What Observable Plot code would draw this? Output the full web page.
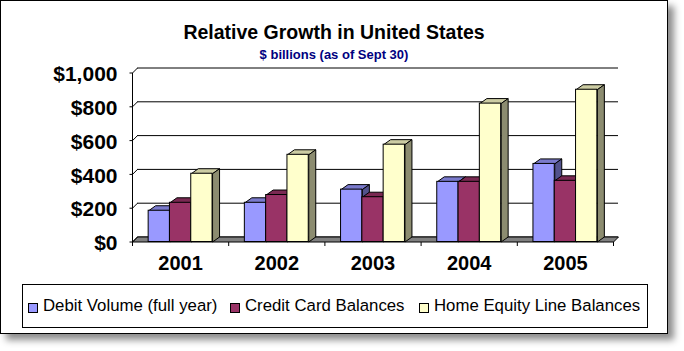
<!DOCTYPE html>
<html><head><meta charset="utf-8">
<script src="https://cdn.jsdelivr.net/npm/d3@7"></script>
<script src="https://cdn.jsdelivr.net/npm/@observablehq/plot@0.6"></script>
<style>
html,body{margin:0;padding:0;background:#fff;}
body{width:684px;height:351px;position:relative;overflow:hidden;font-family:Arial,"Liberation Sans",sans-serif;}
#frame{position:absolute;left:0;top:0;width:666px;height:332px;border:1px solid #000;background:#fff;box-shadow:6px 6px 7px rgba(0,0,0,0.45);}
#title{position:absolute;left:0;top:22.5px;width:668px;text-align:center;font-weight:bold;font-size:19.5px;line-height:19.5px;color:#000;white-space:nowrap;}
#subtitle{position:absolute;left:0;top:48px;width:668px;text-align:center;font-weight:bold;font-size:13px;line-height:13px;color:#000080;white-space:nowrap;}
#chart{position:absolute;left:0;top:62px;}
#legend{position:absolute;left:22px;top:284px;width:624px;height:42px;border:1px solid #000;background:#fff;}
.sw{position:absolute;width:8px;height:8px;border:1px solid #000;top:17.5px;}
.lt{position:absolute;font-size:16.8px;line-height:16.8px;top:12.5px;white-space:nowrap;color:#000;}
</style>
</head>
<body>
<div id="frame"></div>
<div id="title"></div>
<div id="subtitle"></div>
<div id="chart"></div>
<div id="legend"></div>
<script>
const titleText = "Relative Growth in United States";
const subtitleText = "$ billions (as of Sept 30)";
const years = ["2001", "2002", "2003", "2004", "2005"];
const debit = [185, 232, 310, 356, 462];
const credit = [232, 278, 265, 356, 362];
const homeEquity = [404, 516, 576, 819, 901];
const seriesNames = ["Debit Volume (full year)", "Credit Card Balances", "Home Equity Line Balances"];
const yTicks = [0, 200, 400, 600, 800, 1000];
const frontColors = ["#9999FF", "#993366", "#FFFFCC"];
const topColors = ["#7a7acc", "#7a2952", "#cccca3"];
const sideColors = ["#52528c", "#541c38", "#8c8c70"];

document.getElementById("title").textContent = titleText;
document.getElementById("subtitle").textContent = subtitleText;

const seriesValues = [debit, credit, homeEquity];
const rows = [];
seriesValues.forEach((vals, s) => vals.forEach((v, i) => rows.push({year: years[i], s, value: v})));

const W = 668, H = 220, ML = 132, MR = 55, MT = 10.5, MB = 40.5;
const bandW = (W - ML - MR) / years.length;
const barW = 21.3;
const inset = (bandW - barW) / 2;
const offsets = [-barW, 0, barW];
const dX = 7, dY = 5;      // bar depth
const wX = 5, wY = 5;      // wall depth
const fmt = d => "$" + d3.format(",")(d);

function bwOf(x) {
  return typeof x.bandwidth === "function" ? x.bandwidth() : (x.bandwidth ?? bandW);
}

function walls(index, scales) {
  const x = scales.x, y = scales.y;
  const g = d3.create("svg:g").attr("transform", "translate(0.5,0.5)").attr("fill", "none").attr("stroke", "#000");
  const bw = bwOf(x);
  const x0 = x(years[0]);
  const x1 = x(years[years.length - 1]) + bw;
  const y0 = y(0);
  // floor
  g.append("path").attr("d", `M${x0},${y0}L${x1},${y0}L${x1 + wX},${y0 - wY}L${x0 + wX},${y0 - wY}Z`).attr("fill", "#808080");
  // side wall edges at each tick + tick marks
  for (const v of yTicks) {
    g.append("path").attr("d", `M${x0},${y(v)}L${x0 + wX},${y(v) - wY}`);
    g.append("path").attr("d", `M${x0 - 3},${y(v)}L${x0},${y(v)}`);
  }
  // axis line
  g.append("path").attr("d", `M${x0},${y(0)}L${x0},${y(yTicks[yTicks.length - 1])}`);
  // category ticks
  for (let k = 0; k <= years.length; k++) {
    const xx = x0 + k * bw;
    g.append("path").attr("d", `M${xx},${y0}L${xx},${y0 + 4}`);
  }
  return g.node();
}

function faces(k) {
  return (index, scales) => {
    const x = scales.x, y = scales.y;
    const bw = bwOf(x);
    const y0 = y(0);
    const g = d3.create("svg:g").attr("transform", "translate(0.5,0.5)").attr("stroke", "#000").attr("stroke-linejoin", "round");
    rows.filter(r => r.s === k).forEach(r => {
      const xa = x(r.year) + (bw - barW) / 2 + offsets[k];
      const xb = xa + barW;
      const yt = y(r.value);
      g.append("path").attr("fill", topColors[k])
        .attr("d", `M${xa},${yt}L${xa + dX},${yt - dY}L${xb + dX},${yt - dY}L${xb},${yt}Z`);
      g.append("path").attr("fill", sideColors[k])
        .attr("d", `M${xb},${yt}L${xb + dX},${yt - dY}L${xb + dX},${y0 - dY}L${xb},${y0}Z`);
    });
    return g.node();
  };
}

const marks = [
  Plot.ruleY(yTicks, {y: d => d, dx: wX, dy: -wY, stroke: "#000"}),
  walls
];
for (let k = 0; k < 3; k++) {
  marks.push(faces(k));
  marks.push(Plot.barY(rows.filter(r => r.s === k), {
    x: "year", y: "value", fill: frontColors[k], stroke: "#000",
    insetLeft: inset, insetRight: inset, dx: offsets[k]
  }));
}
marks.push(Plot.text(yTicks, {
  y: d => d, text: fmt, frameAnchor: "left", textAnchor: "end", dx: -15, dy: 1.5,
  fontSize: 21, fontWeight: "bold", fill: "#000"
}));
marks.push(Plot.text(years, {
  x: d => d, y: () => 0, text: d => d, dy: 22, fontSize: 20, fontWeight: "bold", fill: "#000"
}));

const chart = Plot.plot({
  width: W, height: H,
  marginLeft: ML, marginRight: MR, marginTop: MT, marginBottom: MB,
  x: {domain: years, padding: 0, round: false, axis: null},
  y: {domain: [0, 1000], axis: null},
  style: {fontFamily: 'Arial, "Liberation Sans", sans-serif', background: "transparent", overflow: "visible"},
  marks
});
document.getElementById("chart").appendChild(chart);

// legend
const legend = document.getElementById("legend");
const swX = [5, 207, 396];
const txX = [20, 222, 411];
seriesNames.forEach((name, k) => {
  const sw = document.createElement("div");
  sw.className = "sw";
  sw.style.left = swX[k] + "px";
  sw.style.background = frontColors[k];
  legend.appendChild(sw);
  const t = document.createElement("div");
  t.className = "lt";
  t.style.left = txX[k] + "px";
  t.textContent = name;
  legend.appendChild(t);
});
</script>
</body></html>
